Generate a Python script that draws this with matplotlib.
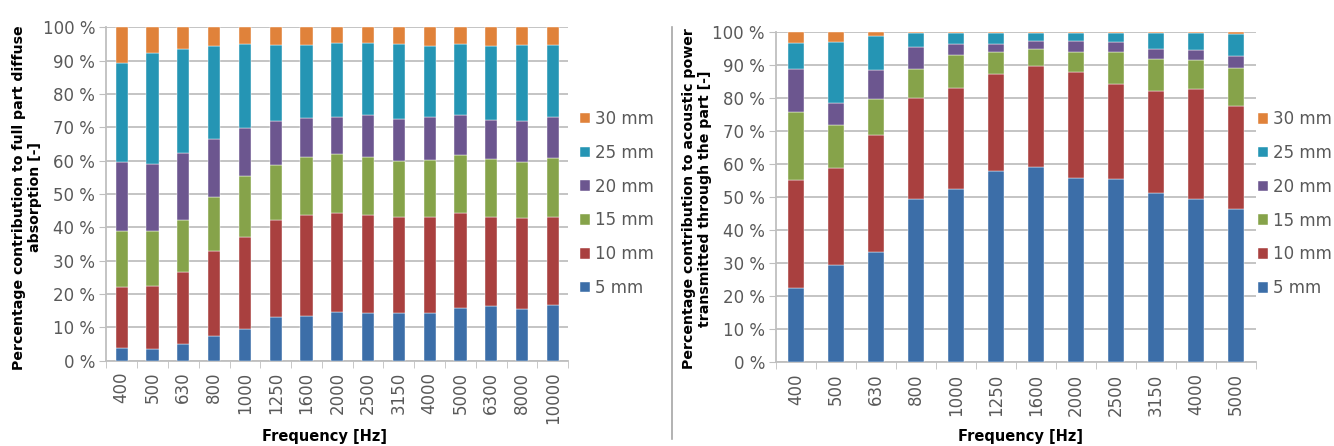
import numpy as np
import matplotlib
matplotlib.use('Agg')
import matplotlib.pyplot as plt
from matplotlib.ticker import FuncFormatter

# Layer thicknesses (stack order, bottom to top)
layers = ["5 mm", "10 mm", "15 mm", "20 mm", "25 mm", "30 mm"]
colors = ["#3c6ea8", "#a9403f", "#86a34a", "#6c568f", "#2595b4", "#e0823a"]

# Absorption contribution per layer [%]
freq_abs = ["400", "500", "630", "800", "1000", "1250", "1600", "2000",
            "2500", "3150", "4000", "5000", "6300", "8000", "10000"]
abs_5mm = [3.7, 3.4, 4.9, 7.3, 9.6, 13.1, 13.4, 14.7, 14.4, 14.4, 14.2, 15.9, 16.4, 15.6, 16.7]
abs_10mm = [18.3, 19.1, 21.8, 25.6, 27.6, 29.1, 30.2, 29.5, 29.2, 28.6, 28.8, 28.5, 26.8, 27.2, 26.5]
abs_15mm = [17.0, 16.4, 15.6, 16.3, 18.2, 16.6, 17.4, 17.8, 17.6, 16.9, 17.2, 17.4, 17.2, 16.9, 17.5]
abs_20mm = [20.7, 20.2, 19.9, 17.3, 14.4, 13.1, 11.7, 11.2, 12.5, 12.5, 13.0, 11.9, 11.8, 12.2, 12.3]
abs_25mm = [29.7, 33.1, 31.3, 27.8, 25.3, 22.9, 22.1, 22.1, 21.7, 22.5, 21.2, 21.2, 22.2, 22.7, 21.6]
abs_30mm = [10.6, 7.8, 6.5, 5.7, 4.9, 5.2, 5.2, 4.7, 4.6, 5.1, 5.6, 5.1, 5.6, 5.4, 5.4]

# Transmitted power contribution per layer [%]
freq_tr = ["400", "500", "630", "800", "1000", "1250", "1600", "2000",
           "2500", "3150", "4000", "5000"]
tr_5mm = [22.4, 29.3, 33.5, 49.3, 52.5, 57.9, 59.2, 55.8, 55.4, 51.1, 49.3, 46.3]
tr_10mm = [32.7, 29.5, 35.1, 30.6, 30.5, 29.4, 30.5, 32.1, 28.7, 31.1, 33.4, 31.2]
tr_15mm = [20.6, 12.9, 11.1, 8.7, 9.9, 6.5, 5.1, 6.1, 9.7, 9.6, 8.6, 11.4]
tr_20mm = [12.9, 6.7, 8.6, 6.8, 3.5, 2.6, 2.5, 3.2, 3.1, 3.0, 3.3, 3.7]
tr_25mm = [7.9, 18.5, 10.3, 4.2, 3.3, 3.2, 2.3, 2.3, 2.6, 4.8, 4.9, 6.7]
tr_30mm = [3.5, 3.1, 1.4, 0.4, 0.3, 0.4, 0.4, 0.5, 0.5, 0.4, 0.5, 0.7]

TEXT_GREY = "#595959"
GRID_GREY = "#bfbfbf"


def stacked_panel(fig, ax, labels, series, ylabel, ylabel_pos, xlabel_x, legend_pos):
    x = np.arange(len(labels))
    bottom = np.zeros(len(labels))
    handles = []
    for name, vals, col in zip(layers, series, colors):
        vals = np.asarray(vals, dtype=float)
        h = ax.bar(x, vals, 0.4, bottom=bottom, color=col, label=name,
                   edgecolor="white", linewidth=0.3, zorder=3)
        handles.append(h)
        bottom += vals

    ax.set_xlim(-0.5, len(labels) - 0.5)
    ax.set_ylim(0, 100)
    ax.set_yticks(np.arange(0, 101, 10))
    ax.yaxis.set_major_formatter(FuncFormatter(lambda v, p: "%d %%" % v))
    ax.grid(axis="y", color=GRID_GREY, linewidth=1.3, zorder=0)

    # category labels centred, tick marks on category boundaries
    ax.set_xticks(x)
    ax.set_xticklabels(labels, rotation=90)
    ax.set_xticks(np.arange(-0.5, len(labels)), minor=True)
    ax.tick_params(axis="x", which="major", length=0, pad=8)
    ax.tick_params(axis="x", which="minor", length=5, color=GRID_GREY)
    ax.tick_params(axis="y", length=5, color=GRID_GREY, pad=3)
    ax.tick_params(labelsize=12, labelcolor=TEXT_GREY)

    for side in ("top", "right"):
        ax.spines[side].set_visible(False)
    for side in ("left", "bottom"):
        ax.spines[side].set_color(GRID_GREY)
        ax.spines[side].set_linewidth(1.3)

    ax.set_ylabel(ylabel, fontsize=10.2, fontweight="bold", linespacing=1.15)
    ax.yaxis.label.set_va("center")
    ax.yaxis.set_label_coords(*ylabel_pos)
    ax.set_xlabel("Frequency [Hz]", fontsize=10.5, fontweight="bold")
    ax.xaxis.set_label_coords(xlabel_x, 0, transform=fig.transFigure)
    ax.xaxis.label.set_va("center")
    ax.xaxis.label.set_y(1 - 436 / 446)

    ax.legend(handles[::-1], layers[::-1], loc="center left",
              bbox_to_anchor=legend_pos, bbox_transform=fig.transFigure,
              frameon=False, fontsize=12, borderpad=0, borderaxespad=0,
              labelspacing=0.95, handlelength=0.6, handleheight=0.6,
              handletextpad=0.3, labelcolor=TEXT_GREY)


fig = plt.figure(figsize=(13.34, 4.46), dpi=100)

ax1 = fig.add_axes([0.0797, 0.1913, 0.3463, 0.7475])
stacked_panel(fig, ax1, freq_abs,
              [abs_5mm, abs_10mm, abs_15mm, abs_20mm, abs_25mm, abs_30mm],
              "Percentage contribution to full part diffuse\nabsorption [-]",
              (-0.1716, 0.4895), 324.5 / 1334, (580 / 1334, 1 - 203.5 / 446))

ax2 = fig.add_axes([0.5817, 0.1877, 0.3598, 0.7413])
stacked_panel(fig, ax2, freq_tr,
              [tr_5mm, tr_10mm, tr_15mm, tr_20mm, tr_25mm, tr_30mm],
              "Percentage contribution to acoustic power\ntransmitted through the part [-]",
              (-0.1646, 0.4955), 1021 / 1334, (1258 / 1334, 1 - 203.7 / 446))

# divider between the two panels
fig.add_artist(plt.Line2D([672 / 1334, 672 / 1334], [0.015, 0.94], color="#a6a6a6",
                          linewidth=1.2, transform=fig.transFigure))

fig.savefig("out.png", dpi=100)
plt.close(fig)
